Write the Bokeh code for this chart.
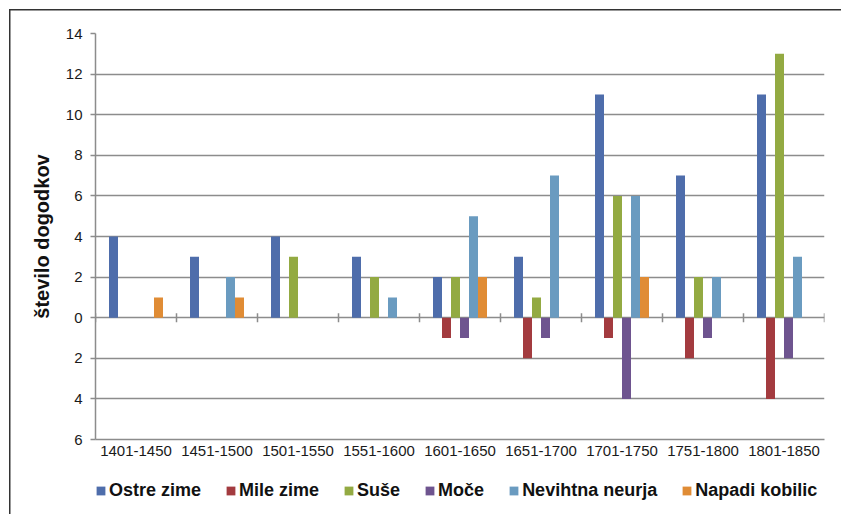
from bokeh.plotting import figure
from bokeh.layouts import column
from bokeh.models import (Range1d, FixedTicker, CustomJSTickFormatter, Legend, LegendItem,
                          ColumnDataSource)
from bokeh.embed import file_html
from bokeh.resources import INLINE
import math

categories = ["1401-1450", "1451-1500", "1501-1550", "1551-1600", "1601-1650",
              "1651-1700", "1701-1750", "1751-1800", "1801-1850"]
ostre_zime = [4, 3, 4, 3, 2, 3, 11, 7, 11]
mile_zime = [0, 0, 0, 0, -1, -2, -1, -2, -4]
suse = [0, 0, 3, 2, 2, 1, 6, 2, 13]
moce = [0, 0, 0, 0, -1, -1, -4, -1, -2]
nevihtna_neurja = [0, 2, 0, 1, 5, 7, 6, 2, 3]
napadi_kobilic = [1, 1, 0, 0, 2, 0, 2, 0, 0]
series_names = ["Ostre zime", "Mile zime", "Suše", "Moče", "Nevihtna neurja", "Napadi kobilic"]
y_ticks = [-6, -4, -2, 0, 2, 4, 6, 8, 10, 12, 14]

series = [ostre_zime, mile_zime, suse, moce, nevihtna_neurja, napadi_kobilic]
colors = ["#4E6DAB", "#A33B3F", "#93AA42", "#6E548F", "#6A9BC0", "#E08C35"]

FONT = "Liberation Sans"
GRID = "#8C8C8C"

# ---------------- main chart ----------------
p = figure(width=841, height=465, output_backend="svg", toolbar_location=None,
           x_range=Range1d(0, len(categories)), y_range=Range1d(y_ticks[0], y_ticks[-1]),
           min_border_left=95, min_border_right=17, min_border_top=33, min_border_bottom=26)
p.border_fill_color = None
p.outline_line_color = None
p.background_fill_color = "white"

n = len(series)
bw = 1.0 / 9.0
sources = []
for k, (vals, col) in enumerate(zip(series, colors)):
    xs = [i + 0.5 + (k - (n - 1) / 2) * bw for i in range(len(categories))]
    src = ColumnDataSource(dict(x=xs, top=vals))
    sources.append(src)
    p.vbar(x="x", top="top", bottom=0, width=bw, source=src,
           fill_color=col, line_color=None)

# category boundary ticks on the zero line
bounds = list(range(len(categories) + 1))
p.scatter(x=bounds, y=[0] * len(bounds), marker="dash", size=9, angle=math.pi / 2,
          line_color=GRID, line_width=1.5)

p.xgrid.visible = False
p.ygrid.ticker = FixedTicker(ticks=y_ticks)
p.ygrid.grid_line_color = GRID
p.ygrid.grid_line_width = 1.5

ya = p.yaxis[0]
ya.ticker = FixedTicker(ticks=y_ticks)
ya.formatter = CustomJSTickFormatter(code="return Math.abs(tick).toString();")
ya.axis_line_color = GRID
ya.axis_line_width = 1.5
ya.major_tick_line_color = GRID
ya.major_tick_line_width = 1.5
ya.major_tick_out = 5
ya.major_tick_in = 0
ya.minor_tick_line_color = None
ya.major_label_standoff = 8
ya.major_label_text_font = FONT
ya.major_label_text_font_size = "15px"
ya.major_label_text_color = "#1a1a1a"
ya.axis_label = "število dogodkov"
ya.axis_label_text_font = FONT
ya.axis_label_text_font_size = "20px"
ya.axis_label_text_font_style = "bold"
ya.axis_label_text_color = "#111111"
ya.axis_label_standoff = 10

xa = p.xaxis[0]
xa.ticker = FixedTicker(ticks=[i + 0.5 for i in range(len(categories))])
xa.major_label_overrides = {i + 0.5: c for i, c in enumerate(categories)}
xa.axis_line_color = GRID
xa.axis_line_width = 1.5
xa.major_tick_line_color = None
xa.minor_tick_line_color = None
xa.major_tick_out = 0
xa.major_tick_in = 0
xa.major_label_standoff = 6
xa.major_label_text_font = FONT
xa.major_label_text_font_size = "15px"
xa.major_label_text_color = "#1a1a1a"

# ---------------- legend strip ----------------
q = figure(width=841, height=49, output_backend="svg", toolbar_location=None,
           x_range=Range1d(100, 101), y_range=Range1d(100, 101),
           x_axis_type=None, y_axis_type=None,
           min_border_left=0, min_border_right=0, min_border_top=0, min_border_bottom=0)
q.border_fill_color = None
q.background_fill_color = None
q.outline_line_color = None
q.xgrid.visible = False
q.ygrid.visible = False

items = []
for nm, col, src in zip(series_names, colors, sources):
    r = q.vbar(x="x", top="top", bottom=0, width=bw, source=src,
               fill_color=col, line_color=None)
    items.append(LegendItem(label=nm, renderers=[r]))

legend = Legend(items=items, orientation="horizontal", location=(0, 13))
legend.padding = 0
legend.margin = 0
legend.spacing = 24
legend.glyph_width = 11
legend.glyph_height = 11
legend.label_standoff = 3
legend.label_text_font = FONT
legend.label_text_font_size = "18px"
legend.label_text_font_style = "bold"
legend.label_text_color = "#111111"
legend.border_line_color = None
legend.background_fill_alpha = 0
q.add_layout(legend, "center")

layout = column(p, q, spacing=0)
layout.styles = {
    "background": ("linear-gradient(#333333,#333333) 9px 9px / 1.5px 100% no-repeat, "
                   "linear-gradient(#333333,#333333) 9px 9px / 100% 1.5px no-repeat"),
}

open("out.html", "w").write(file_html(layout, INLINE))
